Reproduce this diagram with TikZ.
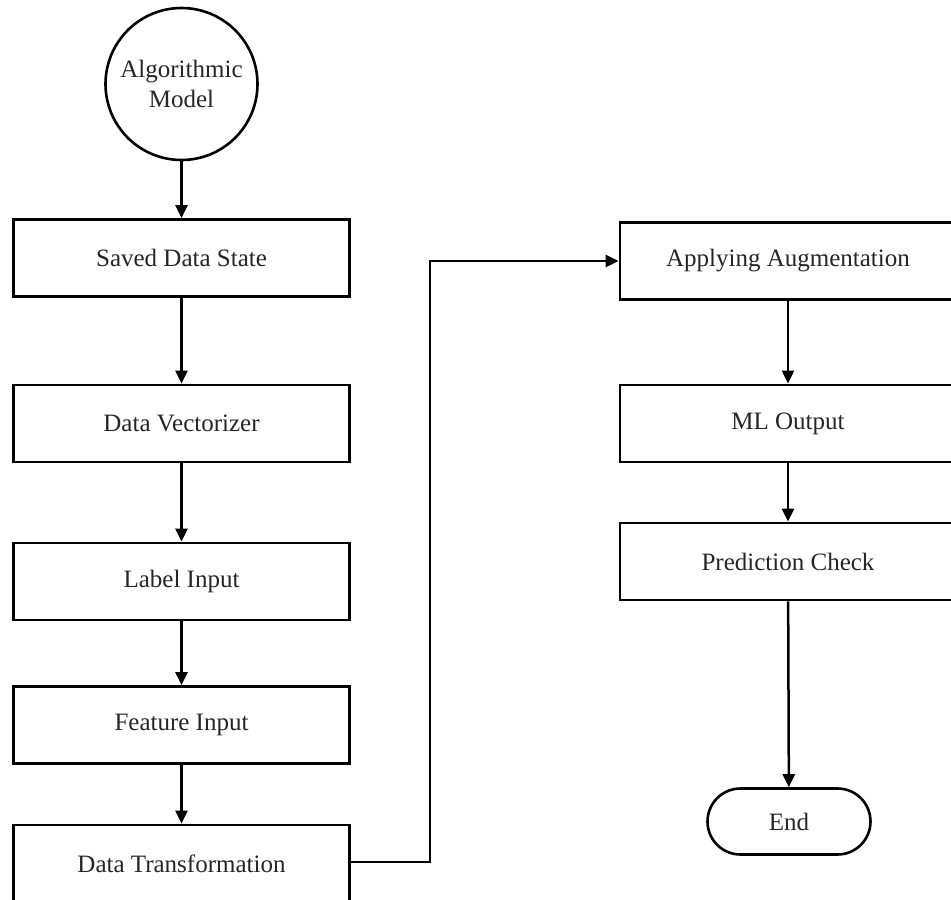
\documentclass[tikz,border=0pt]{standalone}
\usepackage{fontspec}
\setmainfont{Liberation Serif}
\usetikzlibrary{arrows.meta,shapes.misc}
\begin{document}
\begin{tikzpicture}[x=1pt,y=-1pt,
  txt/.style={font=\fontsize{25}{30}\selectfont,text=black!85},
  box/.style={txt,draw,line width=2.8pt,minimum width=336pt,minimum height=77pt,inner sep=0pt},
  termbox/.style={txt,draw,line width=2.6pt,rounded rectangle,minimum width=163pt,minimum height=66pt,inner sep=0pt},
  startcirc/.style={txt,draw,circle,line width=2.6pt,minimum size=152pt,inner sep=0pt,align=center},
  arr/.style={line width=2.5pt,-{Triangle[length=13pt,width=12pt]}},
  conn/.style={line width=2.5pt}]
\useasboundingbox (0,0) rectangle (951,900);
\clip (0,0) rectangle (951,900);
\node[startcirc] (model) at (181.5,84) {Algorithmic\\Model};
\node[box] (sds) at (181.5,258) {Saved Data State};
\node[box] (dv) at (181.5,423.5) {Data Vectorizer};
\node[box] (li) at (181.5,581.5) {Label Input};
\node[box] (fi) at (181.5,725) {Feature Input};
\node[box] (dt) at (181.5,863.5) {Data Transformation};
\node[box] (aa) at (788,261) {Applying Augmentation};
\node[box] (ml) at (788,423.5) {ML Output};
\node[box] (pc) at (788,561.5) {Prediction Check};
\node[termbox] (end) at (789,821.5) {End};
\coordinate (bendA) at (430,862);
\coordinate (bendB) at (430,261);
\draw[arr] (model) -- (sds);
\draw[arr] (sds) -- (dv);
\draw[arr] (dv) -- (li);
\draw[arr] (li) -- (fi);
\draw[arr] (fi) -- (dt);
\draw[arr] (dt.east |- bendA) -- (bendA) -- (bendB) -- (aa.west);
\draw[arr] (aa) -- (ml);
\draw[arr] (ml) -- (pc);
\draw[arr] (pc) -- (end);
\end{tikzpicture}
\end{document}
